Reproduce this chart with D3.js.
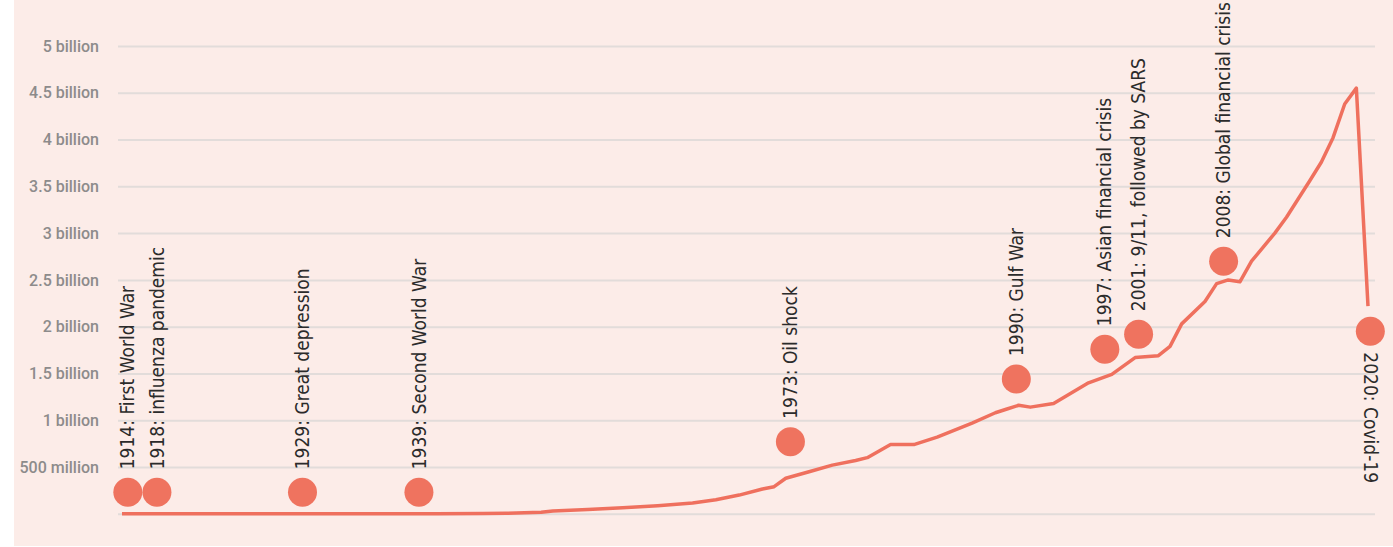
<!DOCTYPE html>
<html>
<head>
<meta charset="utf-8">
<script src="https://cdn.jsdelivr.net/npm/d3@7"></script>
<style>
  html, body { margin: 0; padding: 0; background: #ffffff; }
  svg { display: block; }
</style>
</head>
<body>
<svg id="chart" width="1393" height="547"></svg>
<script>
// ---- data (values in billions) ----
const years = [1913, 1920, 1930, 1940, 1944, 1946, 1949, 1950, 1953, 1956, 1959, 1962, 1964, 1966, 1968, 1969, 1970, 1972, 1974, 1976, 1977, 1979, 1981, 1983, 1986, 1988, 1989, 1990, 1991, 1993, 1996, 1998, 2000, 2002, 2003, 2004, 2006, 2007, 2008, 2009, 2010, 2012, 2013, 2015, 2016, 2017, 2018, 2019, 2020];
const values = [0.0, 0.0, 0.0, 0.0, 0.002, 0.006, 0.016, 0.03, 0.045, 0.065, 0.087, 0.115, 0.15, 0.20, 0.265, 0.29, 0.38, 0.45, 0.52, 0.57, 0.60, 0.74, 0.74, 0.82, 0.97, 1.08, 1.12, 1.16, 1.14, 1.18, 1.40, 1.49, 1.67, 1.69, 1.79, 2.03, 2.27, 2.46, 2.50, 2.48, 2.70, 3.0, 3.17, 3.56, 3.76, 4.02, 4.38, 4.55, 2.22];

const eventLabels = ["1914: First World War", "1918: influenza pandemic", "1929: Great depression", "1939: Second World War", "1973: Oil shock", "1990: Gulf War", "1997: Asian financial crisis", "2001: 9/11, followed by SARS", "2008: Global financial crisis", "2020: Covid-19"];
const eventPos = [1913.5, 1916.0, 1928.5, 1938.5, 1970.4, 1989.8, 1997.4, 2000.3, 2007.6, 2020.2];
const eventValues = [0.23, 0.23, 0.23, 0.23, 0.77, 1.44, 1.76, 1.92, 2.70, 1.95];
const eventBelow = [false, false, false, false, false, false, false, false, false, true];

const tickValues = [0, 0.5, 1, 1.5, 2, 2.5, 3, 3.5, 4, 4.5, 5];
const tickLabels = ["", "500 million", "1 billion", "1.5 billion", "2 billion", "2.5 billion", "3 billion", "3.5 billion", "4 billion", "4.5 billion", "5 billion"];

// ---- drawing ----
const svg = d3.select("#chart");
const FONT = "'Liberation Sans Narrow', 'DejaVu Sans Condensed', 'Liberation Sans', sans-serif";
const TICKFONT = "Roboto, 'Noto Sans', sans-serif";

svg.append("rect").attr("x", 14).attr("y", 0).attr("width", 1379).attr("height", 546).attr("fill", "#fcece8");

const x = d3.scaleLinear().domain([1913, 2020]).range([122, 1368]);
const y = d3.scaleLinear().domain([0, 5]).range([513.8, 46]);

// gridlines + y labels via axis
const yAxis = d3.axisLeft(y)
  .tickValues(tickValues)
  .tickSize(-(1375 - 118))
  .tickPadding(19)
  .tickFormat((d, i) => tickLabels[i]);

const gAxis = svg.append("g").attr("transform", "translate(118,0)").call(yAxis);
gAxis.select(".domain").remove();
gAxis.selectAll(".tick line").attr("stroke", "#e2dcda").attr("stroke-width", 2);
gAxis.selectAll(".tick text")
  .attr("fill", "#8d8b8b")
  .style("font-family", TICKFONT)
  .style("font-size", "16px")
  .style("font-weight", "500");

// line
const lineData = years.map((yr, i) => ({ yr, v: values[i] }));
const line = d3.line().x(d => x(d.yr)).y(d => y(d.v)).curve(d3.curveLinear);
svg.append("path")
  .datum(lineData)
  .attr("d", line)
  .attr("fill", "none")
  .attr("stroke", "#ef705e")
  .attr("stroke-width", 3.5)
  .attr("stroke-linejoin", "round")
  .attr("stroke-linecap", "butt");

// event dots + labels
const events = eventLabels.map((t, i) => ({ t, p: eventPos[i], v: eventValues[i], below: eventBelow[i] }));
const gE = svg.append("g");
gE.selectAll("circle").data(events).join("circle")
  .attr("cx", d => x(d.p))
  .attr("cy", d => y(d.v))
  .attr("r", 14.5)
  .attr("fill", "#ef735f");

gE.selectAll("text").data(events).join("text")
  .attr("transform", d => d.below
    ? `translate(${x(d.p)},${y(d.v) + 21}) rotate(90)`
    : `translate(${x(d.p)},${y(d.v) - 23}) rotate(-90)`)
  .attr("text-anchor", "start")
  .attr("dy", "0.35em")
  .attr("fill", "#2b2b2b")
  .style("font-family", FONT)
  .style("font-size", "19px")
  .text(d => d.t);
</script>
</body>
</html>
